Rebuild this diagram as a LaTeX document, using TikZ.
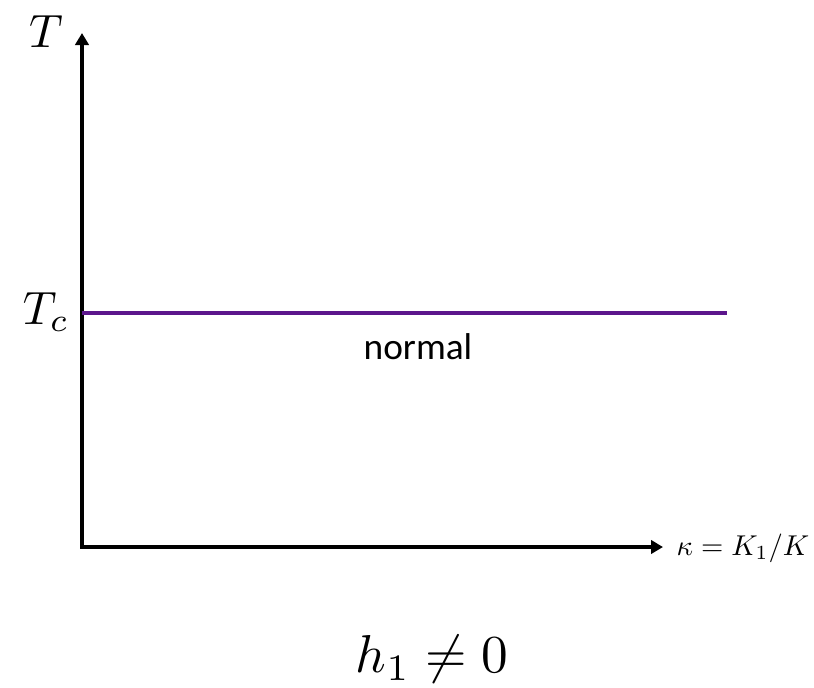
\documentclass[tikz,border=0pt]{standalone}
\usepackage{fontspec}
\newfontfamily\carl{Carlito}
\usetikzlibrary{arrows.meta}
\definecolor{phase}{RGB}{92,22,140}
\tikzset{
  axis/.style={line width=3pt,-{Triangle[length=9pt,width=10pt]}},
  lab/.style={inner sep=0pt}
}
\begin{document}
\begin{tikzpicture}[x=0.75pt,y=-0.75pt]
\useasboundingbox (0,0) rectangle (814,687);
\coordinate (O) at (82,547);
\coordinate (Ytop) at (82,33);
\coordinate (Xend) at (663,547);
\coordinate (L1) at (82,313);
\coordinate (L2) at (727,313);
\draw[axis] ([yshift=1.5pt]O) -- (Ytop);
\draw[axis] ([xshift=-1.5pt]O) -- (Xend);
\draw[phase,line width=3pt] (L1) -- (L2);
\node[lab,scale=3.5] (T) at (46,32) {$T$};
\node[lab,scale=3.5] (Tc) at (46,312) {$T_c$};
\node[lab] (norm) at (418,347) {\fontsize{28}{32}\selectfont\carl normal};
\node[lab,anchor=west,scale=2.15] (kap) at (676,548) {$\kappa=K_1/K$};
\node[lab,scale=4] (h) at (432,659) {$h_1\neq 0$};
\end{tikzpicture}
\end{document}
